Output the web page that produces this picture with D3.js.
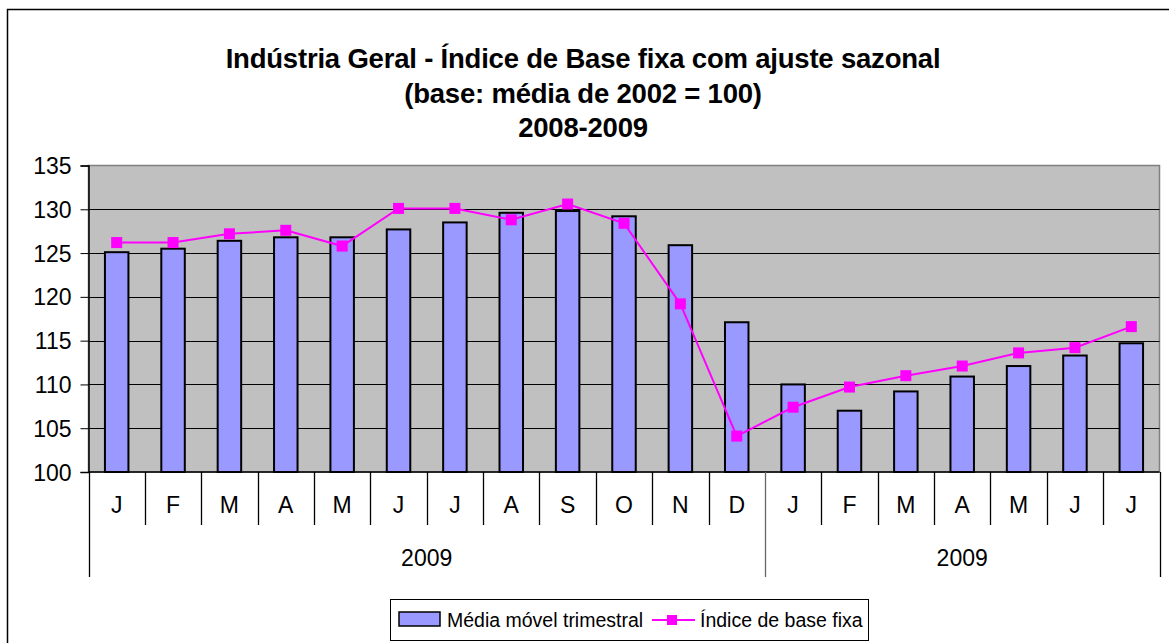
<!DOCTYPE html>
<html>
<head>
<meta charset="utf-8">
<script src="https://cdn.jsdelivr.net/npm/d3@7"></script>
<style>
  body { margin: 0; background: #fff; }
  svg text { font-family: "Liberation Sans", Arial, sans-serif; fill: #000; }
</style>
</head>
<body>
<svg id="main-svg" width="1169" height="643"></svg>
<script>
var months = ['J','F','M','A','M','J','J','A','S','O','N','D','J','F','M','A','M','J','J'];
var years = [
    { label: '2009', start: 0, end: 12 },
    { label: '2009', start: 12, end: 19 }
];
var mediaMovel = [125.1, 125.5, 126.4, 126.8, 126.8, 127.7, 128.5, 129.6, 129.8, 129.2, 125.9, 117.1,
                  110.0, 107.0, 109.2, 110.9, 112.1, 113.3, 114.7];
var indiceBase = [126.2, 126.2, 127.2, 127.6, 125.8, 130.1, 130.1, 128.8, 130.6, 128.4, 119.2, 104.1,
                  107.4, 109.7, 111.0, 112.1, 113.6, 114.2, 116.6];
var yTicks = [100, 105, 110, 115, 120, 125, 130, 135];
var titleLines = ['Indústria Geral - Índice de Base fixa com ajuste sazonal',
                  '(base: média de 2002 = 100)',
                  '2008-2009'];
var legendLabels = ['Média móvel trimestral', 'Índice de base fixa'];

var svg = d3.select('#main-svg');

// outer chart frame (runs off the picture on the right and bottom)
svg.append('rect')
    .attr('x', 7.5).attr('y', 9.5)
    .attr('width', 1200).attr('height', 700)
    .attr('fill', 'none').attr('stroke', '#000').attr('stroke-width', 1.5);

// title
svg.selectAll('text.title').data(titleLines).enter().append('text')
    .attr('class', 'title')
    .attr('x', 583)
    .attr('y', function(d, i) { return 68 + i * 34.5; })
    .attr('text-anchor', 'middle')
    .style('font-weight', 'bold')
    .style('font-size', '27.5px')
    .style('letter-spacing', '-0.2px')
    .text(function(d) { return d; });

var plotL = 88.5, plotR = 1159.5, plotT = 165.5, plotB = 472;

var x = d3.scaleBand().domain(d3.range(months.length)).range([plotL, plotR]);
var y = d3.scaleLinear().domain([100, 135]).range([plotB, plotT]);

// plot area
svg.append('rect')
    .attr('x', plotL).attr('y', plotT)
    .attr('width', plotR - plotL).attr('height', plotB - plotT)
    .attr('fill', '#c0c0c0').attr('stroke', '#808080').attr('stroke-width', 1.5);

// gridlines
svg.append('g').selectAll('line')
    .data(yTicks.filter(function(d) { return d > 100 && d < 135; }))
    .enter().append('line')
    .attr('x1', plotL).attr('x2', plotR)
    .attr('y1', function(d) { return Math.round(y(d)) + 0.5; })
    .attr('y2', function(d) { return Math.round(y(d)) + 0.5; })
    .attr('stroke', '#000').attr('stroke-width', 1);

// y axis
var yAxis = d3.axisLeft(y).tickValues(yTicks).tickSize(8).tickPadding(9);
var gy = svg.append('g').attr('transform', 'translate(' + plotL + ',0)').call(yAxis);
gy.select('.domain').attr('stroke', '#000').attr('stroke-width', 1.5);
gy.selectAll('.tick line').attr('stroke', '#000');
gy.selectAll('.tick text').style('font-size', '23px').attr('dy', '0.35em');

// bars
var bw = 23.5;
svg.append('g').selectAll('rect').data(mediaMovel).enter().append('rect')
    .attr('x', function(d, i) { return x(i) + x.bandwidth() / 2 - bw / 2; })
    .attr('y', function(d) { return y(d); })
    .attr('width', bw)
    .attr('height', function(d) { return plotB - y(d); })
    .attr('fill', '#9999ff').attr('stroke', '#000').attr('stroke-width', 2);

// line + markers
var line = d3.line()
    .x(function(d, i) { return x(i) + x.bandwidth() / 2; })
    .y(function(d) { return y(d); });
svg.append('path').datum(indiceBase)
    .attr('d', line)
    .attr('fill', 'none').attr('stroke', '#ff00ff').attr('stroke-width', 2);
var ms = 11;
svg.append('g').selectAll('rect').data(indiceBase).enter().append('rect')
    .attr('x', function(d, i) { return x(i) + x.bandwidth() / 2 - ms / 2; })
    .attr('y', function(d) { return y(d) - ms / 2; })
    .attr('width', ms).attr('height', ms)
    .attr('fill', '#ff00ff');

// x axis baseline
svg.append('line')
    .attr('x1', plotL).attr('x2', plotR)
    .attr('y1', plotB).attr('y2', plotB)
    .attr('stroke', '#000').attr('stroke-width', 1.5);

// category dividers
var divs = d3.range(months.length + 1);
svg.append('g').selectAll('line').data(divs).enter().append('line')
    .attr('x1', function(d) { return Math.round(plotL + d * x.step()) + 0.5; })
    .attr('x2', function(d) { return Math.round(plotL + d * x.step()) + 0.5; })
    .attr('y1', plotB)
    .attr('y2', function(d) { return (d === 0 || d === 12 || d === months.length) ? 577 : 525; })
    .attr('stroke', function(d) { return d === 12 ? '#666' : '#000'; })
    .attr('stroke-width', 1.3);

svg.append('g').selectAll('text').data(months).enter().append('text')
    .attr('x', function(d, i) { return x(i) + x.bandwidth() / 2; })
    .attr('y', 505)
    .attr('dy', '0.35em')
    .attr('text-anchor', 'middle')
    .style('font-size', '23px')
    .text(function(d) { return d; });

svg.append('g').selectAll('text').data(years).enter().append('text')
    .attr('x', function(d) { return (plotL + d.start * x.step() + plotL + d.end * x.step()) / 2; })
    .attr('y', 558)
    .attr('dy', '0.35em')
    .attr('text-anchor', 'middle')
    .style('font-size', '23px')
    .text(function(d) { return d.label; });

// legend
var lg = svg.append('g');
lg.append('rect')
    .attr('x', 390.5).attr('y', 599.5).attr('width', 478).attr('height', 41)
    .attr('fill', '#fff').attr('stroke', '#000').attr('stroke-width', 1);
lg.append('rect')
    .attr('x', 399).attr('y', 612).attr('width', 41).attr('height', 14)
    .attr('fill', '#9999ff').attr('stroke', '#000').attr('stroke-width', 1.5);
lg.append('text')
    .attr('x', 447).attr('y', 620).attr('dy', '0.35em')
    .style('font-size', '19.5px')
    .text(legendLabels[0]);
lg.append('line')
    .attr('x1', 652).attr('x2', 695).attr('y1', 620).attr('y2', 620)
    .attr('stroke', '#ff00ff').attr('stroke-width', 2);
lg.append('rect')
    .attr('x', 667).attr('y', 615).attr('width', 10).attr('height', 10)
    .attr('fill', '#ff00ff');
lg.append('text')
    .attr('x', 700).attr('y', 620).attr('dy', '0.35em')
    .style('font-size', '19.5px')
    .text(legendLabels[1]);
</script>
</body>
</html>
